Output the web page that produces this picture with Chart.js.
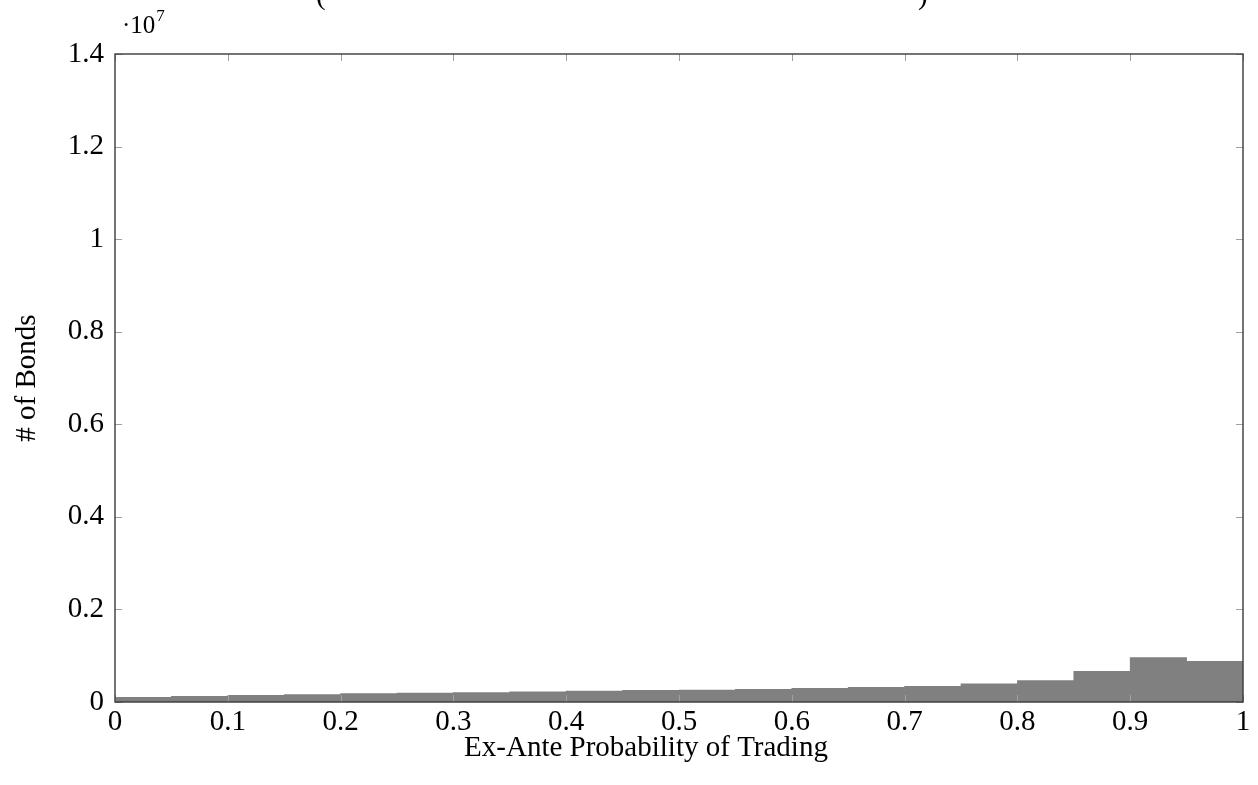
<!DOCTYPE html>
<html>
<head>
<meta charset="utf-8">
<script src="https://cdn.jsdelivr.net/npm/chart.js@4.4.1/dist/chart.umd.min.js"></script>
<style>
    html, body { margin: 0; padding: 0; background: #fff; }
    #wrap { width: 1258px; height: 785px; position: relative; }
</style>
</head>
<body>
<div id="wrap"><canvas id="histChart" width="1258" height="785"></canvas></div>
<script>
// histogram bins (centre of each 0.05 wide bin) and counts
const binCenters = [0.025, 0.075, 0.125, 0.175, 0.225, 0.275, 0.325, 0.375, 0.425, 0.475,
                    0.525, 0.575, 0.625, 0.675, 0.725, 0.775, 0.825, 0.875, 0.925, 0.975];
const bondCounts = [100000, 125000, 145000, 160000, 180000, 195000, 205000, 220000, 235000, 250000,
                    260000, 275000, 295000, 315000, 340000, 395000, 465000, 660000, 960000, 880000];
const xTicks = [0, 0.1, 0.2, 0.3, 0.4, 0.5, 0.6, 0.7, 0.8, 0.9, 1];
const yTicks = [0, 2000000, 4000000, 6000000, 8000000, 10000000, 12000000, 14000000];
const xLabel = "Ex-Ante Probability of Trading";

const serif = "'Liberation Serif', 'DejaVu Serif', serif";
const fontSize = 29;
const fmt = v => String(parseFloat(v.toFixed(1)));

// inward tick marks, frame, x label and the ·10^7 multiplier
const framePlugin = {
    id: "frame",
    afterDatasetsDraw(chart) {
        const { ctx, chartArea: a, scales } = chart;
        const len = 7;
        ctx.save();
        ctx.strokeStyle = "#a0a0a0";
        ctx.lineWidth = 1;
        ctx.beginPath();
        xTicks.forEach(t => {
            const px = Math.round(scales.x.getPixelForValue(t)) + 0.5;
            ctx.moveTo(px, a.bottom); ctx.lineTo(px, a.bottom - len);
            ctx.moveTo(px, a.top); ctx.lineTo(px, a.top + len);
        });
        yTicks.forEach(t => {
            const py = Math.round(scales.y.getPixelForValue(t)) + 0.5;
            ctx.moveTo(a.left, py); ctx.lineTo(a.left + len, py);
            ctx.moveTo(a.right, py); ctx.lineTo(a.right - len, py);
        });
        ctx.stroke();

        ctx.strokeStyle = "#3a3a3a";
        ctx.lineWidth = 1.4;
        ctx.strokeRect(a.left, a.top, a.right - a.left, a.bottom - a.top);

        ctx.fillStyle = "#000";
        ctx.textBaseline = "alphabetic";
        ctx.textAlign = "left";
        ctx.font = "25px " + serif;
        const base = "\u00b710";
        ctx.fillText(base, a.left + 7, 33);
        const w = ctx.measureText(base).width;
        ctx.font = "17px " + serif;
        ctx.fillText("7", a.left + 8 + w, 21);

        ctx.font = fontSize + "px " + serif;
        // bottoms of the clipped title parentheses
        ctx.fillText("(", 316, 4);
        ctx.fillText(")", 918, 4);

        ctx.textAlign = "center";
        ctx.fillText(xLabel, (a.left + a.right) / 2 - 33, 756);
        ctx.restore();
    }
};

const ctx = document.getElementById("histChart").getContext("2d");
new Chart(ctx, {
    type: "bar",
    data: {
        datasets: [{
            data: binCenters.map((x, i) => ({ x: x, y: bondCounts[i] })),
            backgroundColor: "#808080",
            borderWidth: 0,
            barPercentage: 1,
            categoryPercentage: 1
        }]
    },
    options: {
        responsive: false,
        animation: false,
        layout: { padding: { left: 0, right: 15, top: 54, bottom: 0 } },
        plugins: {
            legend: { display: false },
            tooltip: { enabled: false }
        },
        scales: {
            x: {
                type: "linear",
                min: 0,
                max: 1,
                offset: false,
                afterBuildTicks: scale => { scale.ticks = xTicks.map(v => ({ value: v })); },
                afterFit: scale => { scale.height = 83; },
                grid: { display: false, drawTicks: false },
                border: { display: false },
                ticks: {
                    padding: 3,
                    color: "#000",
                    font: { family: serif, size: fontSize },
                    maxRotation: 0,
                    callback: v => fmt(v)
                },
                title: { display: false }
            },
            y: {
                min: 0,
                max: 14000000,
                afterBuildTicks: scale => { scale.ticks = yTicks.map(v => ({ value: v })); },
                afterFit: scale => { scale.width = 115; },
                grid: { display: false, drawTicks: false },
                border: { display: false },
                ticks: {
                    padding: 11,
                    color: "#000",
                    font: { family: serif, size: fontSize },
                    callback: v => fmt(v / 10000000)
                },
                title: {
                    display: true,
                    text: "# of Bonds",
                    color: "#000",
                    font: { family: serif, size: fontSize },
                    padding: { top: 10, bottom: 0 }
                }
            }
        }
    },
    plugins: [framePlugin]
});
</script>
</body>
</html>
